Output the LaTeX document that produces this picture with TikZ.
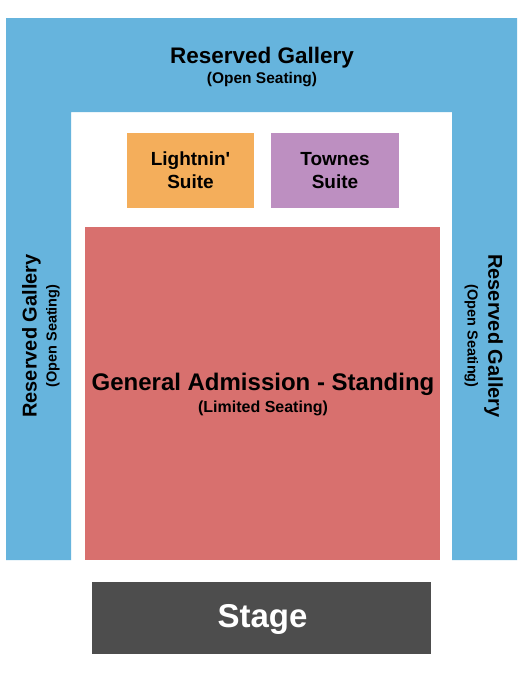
\documentclass[tikz,border=0pt]{standalone}
\usepackage{fontspec}
\setmainfont{Liberation Sans}
\definecolor{gallery}{RGB}{102,180,221}
\definecolor{lightnin}{RGB}{244,174,91}
\definecolor{townes}{RGB}{189,143,193}
\definecolor{ga}{RGB}{216,112,110}
\definecolor{stagec}{RGB}{77,77,77}
\begin{document}
\begin{tikzpicture}[x=1pt,y=-1pt,
  lbl/.style={font=\bfseries, inner sep=0pt, anchor=base, text=black},
  block/.style={draw=none, inner sep=0pt, anchor=north west}]
\useasboundingbox (0,0) rectangle (525,675);
\fill[white] (0,0) rectangle (525,675);
% gallery U shape
\fill[gallery] (6,18) -- (517,18) -- (517,560) -- (452,560) -- (452,112) -- (71,112) -- (71,560) -- (6,560) -- cycle;
% blocks
\node[block, fill=lightnin, minimum width=127pt, minimum height=75pt] (lsuite) at (127,133) {};
\node[block, fill=townes, minimum width=128pt, minimum height=75pt] (tsuite) at (271,133) {};
\node[block, fill=ga, minimum width=355pt, minimum height=333pt] (ga) at (85,227) {};
\node[block, fill=stagec, minimum width=339pt, minimum height=72pt] (stage) at (92,582) {};
% top gallery labels
\node[lbl, font=\bfseries\fontsize{22.5}{27}\selectfont] (tgal) at (262,63.3) {Reserved Gallery};
\node[lbl, font=\bfseries\fontsize{15.5}{18}\selectfont] (tgalsub) at (262,83) {(Open Seating)};
% left gallery labels
\node[lbl, rotate=90, font=\bfseries\fontsize{20}{24}\selectfont] (lgal) at (36.7,336) {Reserved Gallery};
\node[lbl, rotate=90, font=\bfseries\fontsize{14.5}{17}\selectfont] (lgalsub) at (56.5,336) {(Open Seating)};
% right gallery labels
\node[lbl, rotate=-90, font=\bfseries\fontsize{20}{24}\selectfont] (rgal) at (488.3,336) {Reserved Gallery};
\node[lbl, rotate=-90, font=\bfseries\fontsize{14.5}{17}\selectfont] (rgalsub) at (467.5,336) {(Open Seating)};
% suites
\node[lbl, font=\bfseries\fontsize{19}{23}\selectfont] (lsuite1) at (190.5,165) {Lightnin\textquotesingle};
\node[lbl, font=\bfseries\fontsize{19}{23}\selectfont] (lsuite2) at (190.5,188.3) {Suite};
\node[lbl, font=\bfseries\fontsize{19}{23}\selectfont] (tsuite1) at (335,165) {Townes};
\node[lbl, font=\bfseries\fontsize{19}{23}\selectfont] (tsuite2) at (335,188.3) {Suite};
% general admission
\node[lbl, font=\bfseries\fontsize{24}{28}\selectfont] (ga1) at (263,390) {General Admission - Standing};
\node[lbl, font=\bfseries\fontsize{16}{19}\selectfont] (ga2) at (263,412) {(Limited Seating)};
% stage
\node[lbl, text=white, font=\bfseries\fontsize{33}{38}\selectfont] (stagelbl) at (262.5,627.5) {Stage};
\end{tikzpicture}
\end{document}
